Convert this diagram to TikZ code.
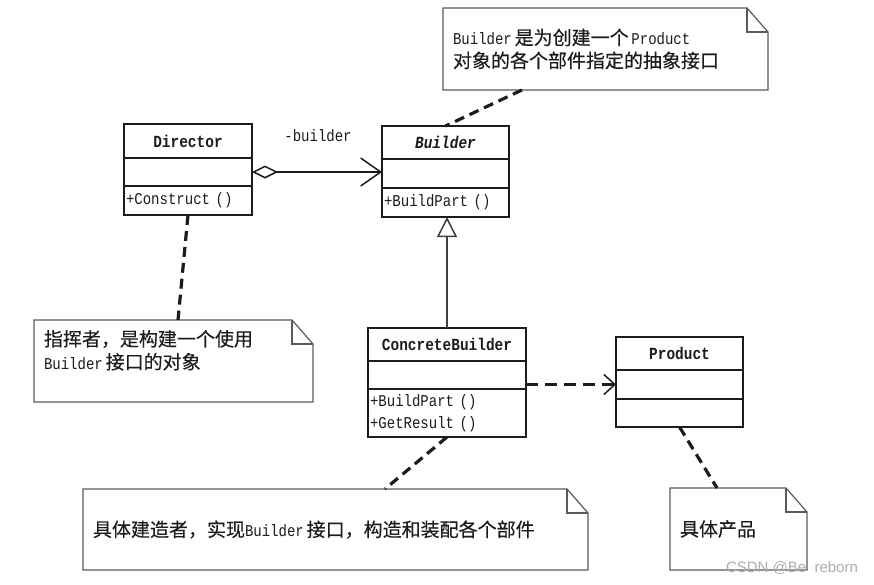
\documentclass[tikz,border=0pt]{standalone}
\usepackage{fontspec}
\setmainfont{Liberation Mono}[FakeStretch=0.85]
\newfontfamily\cjk{Noto Sans CJK SC}[FakeBold=0.3]
\newfontfamily\wmfont{Liberation Sans}
\usetikzlibrary{arrows.meta,positioning}
\definecolor{ink}{RGB}{28,28,28}
\definecolor{noteink}{RGB}{90,90,90}
\newcommand\zhtext[1]{{\cjk\fontsize{19}{23}\selectfont #1}}

\begin{document}
\begin{tikzpicture}[
  compart/.style={draw=ink, line width=1.6pt, minimum width=#1, text width=#1-4pt,
    inner xsep=2pt, inner ysep=0pt, outer sep=0pt, text=ink, font=\fontsize{16.5}{22}\selectfont},
  classname/.style={compart=#1, align=center, font=\fontsize{17}{22}\selectfont\bfseries},
  classmeth/.style={compart=#1, align=left},
  note/.style={minimum width=#1, text width=#1-20pt, inner xsep=10pt, inner ysep=0pt,
    outer sep=0pt, align=left, text=ink, font=\fontsize{16.5}{23}\selectfont},
  noteline/.style={draw=noteink, line width=1.2pt, line join=miter},
  notelink/.style={draw=ink, line width=3.2pt, dash pattern=on 10pt off 6pt},
  aggregation/.style={draw=ink, line width=1.5pt,
    {Diamond[open, length=26pt, width=13pt]}-{Straight Barb[length=20pt, width=28pt]}},
  generalization/.style={draw=ink!85, line width=1.5pt, -{Triangle[open, length=20pt, width=20pt]}},
  dependency/.style={draw=ink, line width=3pt, dash pattern=on 12pt off 7pt,
    -{Straight Barb[length=11pt, width=20pt, line width=1.5pt]}}
]
\useasboundingbox (0pt,0pt) rectangle (874pt,-584pt);

% classes
\node (director) [classname=128pt, minimum height=34pt] at (188pt, -141pt) {Director};
\node (director-attr) [compart=128pt, minimum height=28pt, below=0pt of director] {};
\node (director-meth) [classmeth=128pt, minimum height=29pt, below=0pt of director-attr] {+Construct ()};

\node (builder) [classname=127pt, minimum height=33pt] at (445.5pt, -142.5pt) {\itshape Builder};
\node (builder-attr) [compart=127pt, minimum height=29pt, below=0pt of builder] {};
\node (builder-meth) [classmeth=127pt, minimum height=29pt, below=0pt of builder-attr] {+BuildPart ()};

\node (concrete) [classname=158pt, minimum height=33pt] at (447pt, -344.5pt) {ConcreteBuilder};
\node (concrete-attr) [compart=158pt, minimum height=28pt, below=0pt of concrete] {};
\node (concrete-meth) [classmeth=158pt, minimum height=48pt, below=0pt of concrete-attr] {+BuildPart ()\\+GetResult ()};

\node (product) [classname=127pt, minimum height=33pt] at (679.5pt, -353.5pt) {Product};
\node (product-attr) [compart=127pt, minimum height=29pt, below=0pt of product] {};
\node (product-meth) [compart=127pt, minimum height=28pt, below=0pt of product-attr] {};

% notes
\node (builder-note) [note=325pt, minimum height=82pt] at (605.5pt, -49pt)
  {Builder\,\zhtext{是为创建一个}\,Product\\\zhtext{对象的各个部件指定的抽象接口}};
\node (director-note) [note=279pt, minimum height=82pt] at (173.5pt, -361pt)
  {\zhtext{指挥者，是构建一个使用}\\Builder\,\zhtext{接口的对象}\\\mbox{}};
\node (concrete-note) [note=505pt, minimum height=81pt] at (335.5pt, -529.5pt)
  {\zhtext{具体建造者，实现}Builder\,\zhtext{接口，构造和装配各个部件}};
\node (product-note) [note=137pt, minimum height=82pt] at (738.5pt, -529pt)
  {\zhtext{具体产品}};
\foreach \n in {builder-note, director-note, concrete-note, product-note} {
  \draw [noteline] (\n.north west) -- ([xshift=-21pt]\n.north east) -- ([yshift=-24pt]\n.north east)
    -- (\n.south east) -- (\n.south west) -- cycle;
  \draw [noteline] ([xshift=-21pt]\n.north east) |- ([yshift=-24pt]\n.north east);
}

% relations
\draw [aggregation] (director-attr.east) -- (director-attr.east -| builder-attr.west);
\node (role) [text=ink, font=\fontsize{16.5}{18}\selectfont] at (318pt, -136pt) {-builder};
\draw [generalization] (concrete.north) -- (concrete.north |- builder-meth.south);
\draw [dependency] (concrete-attr.east |- product-attr.west) -- (product-attr.west);

\draw [notelink] ([xshift=79pt]builder-note.south west) -- (builder.north);
\draw [notelink] (director-meth.south) -- ([xshift=144pt]director-note.north west);
\draw [notelink] (concrete-meth.south) -- ([xshift=302pt]concrete-note.north west);
\draw [notelink] (product-meth.south) -- ([xshift=47pt]product-note.north west);

\node (watermark) [text=gray!65, font=\wmfont\fontsize{15}{15}\selectfont] at (792pt, -568pt) {CSDN @Be\ \ reborn};
\end{tikzpicture}
\end{document}
